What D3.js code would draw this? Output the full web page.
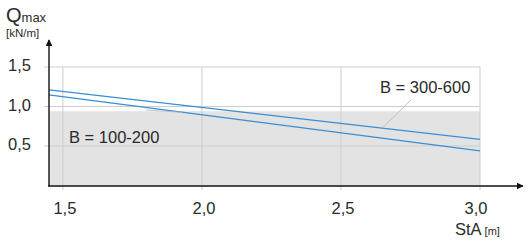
<!DOCTYPE html>
<html lang="de">
<head>
<meta charset="UTF-8">
<title>Qmax StA</title>
<script src="https://cdn.jsdelivr.net/npm/d3@7"></script>
<style>
  body { margin:0; background:#fff; }
  svg text { font-family: "Liberation Sans", Arial, sans-serif; fill:#2a2a2a; }
</style>
</head>
<body>
<div id="chart"></div>
<script>
// data
var stA = [1.45, 3.0]
var qB300 = [1.21, 0.585]   // B = 300-600
var qB100 = [1.146, 0.437]  // B = 100-200
var bandTop = 0.94
var xTicks = [1.5, 2.0, 2.5, 3.0]
var yTicks = [0.5, 1.0, 1.5]

var W = 530, H = 246
var x = d3.scaleLinear().domain([1.45, 3.0]).range([49, 480])
var y = d3.scaleLinear().domain([0, 1.5]).range([185.5, 67])
var fmt = function(d){ return d3.format('.1f')(d).replace('.', ',') }

var svg = d3.select('#chart').append('svg').attr('width', W).attr('height', H)

// grey band
svg.append('rect')
  .attr('x', x(1.45)).attr('y', y(bandTop))
  .attr('width', x(3.0) - x(1.45)).attr('height', y(0) - y(bandTop))
  .attr('fill', '#e3e3e3')

// grid
svg.append('g').selectAll('line').data(yTicks).enter().append('line')
  .attr('x1', 44).attr('x2', x(3.0))
  .attr('y1', function(d){ return y(d) }).attr('y2', function(d){ return y(d) })
  .attr('stroke', '#cdcdcd').attr('stroke-width', 1)
svg.append('g').selectAll('line').data(xTicks).enter().append('line')
  .attr('x1', function(d){ return x(d) }).attr('x2', function(d){ return x(d) })
  .attr('y1', y(1.5)).attr('y2', 190)
  .attr('stroke', '#cdcdcd').attr('stroke-width', 1)

// lines
var line = d3.line()
  .x(function(d){ return x(d[0]) })
  .y(function(d){ return y(d[1]) })
;[qB300, qB100].forEach(function(s){
  svg.append('path')
    .datum(stA.map(function(v, i){ return [v, s[i]] }))
    .attr('fill', 'none').attr('stroke', '#3a8ed4').attr('stroke-width', 1.3)
    .attr('d', line)
})

// axes with arrows
svg.append('defs').append('marker')
  .attr('id', 'arr').attr('viewBox', '0 0 10 10').attr('refX', 9).attr('refY', 5)
  .attr('markerWidth', 7).attr('markerHeight', 7).attr('markerUnits', 'userSpaceOnUse')
  .attr('orient', 'auto')
  .append('path').attr('d', 'M0,0L10,5L0,10Z').attr('fill', '#111')
svg.append('line').attr('x1', 49).attr('x2', 49).attr('y1', 186).attr('y2', 40)
  .attr('stroke', '#111').attr('stroke-width', 1.4).attr('marker-end', 'url(#arr)')
svg.append('line').attr('x1', 48).attr('x2', 523).attr('y1', 186).attr('y2', 186)
  .attr('stroke', '#111').attr('stroke-width', 1.4).attr('marker-end', 'url(#arr)')

// tick labels
svg.append('g').selectAll('text').data(yTicks).enter().append('text')
  .attr('x', 31).attr('y', function(d){ return y(d) + 4 })
  .attr('text-anchor', 'end').attr('font-size', 16.5)
  .text(fmt)
svg.append('g').selectAll('text').data(xTicks).enter().append('text')
  .attr('x', function(d){ return x(d) + (d == 3.0 ? -4 : 2) }).attr('y', 214)
  .attr('text-anchor', 'middle').attr('font-size', 16.5)
  .text(fmt)

// axis titles
var qt = svg.append('text').attr('x', 6).attr('y', 22).attr('font-size', 20)
qt.append('tspan').text('Q')
qt.append('tspan').attr('font-size', 13).attr('dx', 0).text('max')
svg.append('text').attr('x', 6).attr('y', 37).attr('font-size', 11.5).text('[kN/m]')
var xt = svg.append('text').attr('x', 455).attr('y', 235).attr('font-size', 16.5)
xt.append('tspan').text('StA')
xt.append('tspan').attr('font-size', 11).attr('dx', 3).text('[m]')

// labels with leader lines
function onLine(s, v){ return s[0] + (s[1] - s[0]) * (v - stA[0]) / (stA[1] - stA[0]) }
var labels = [
  {s: qB300, text: 'B = 300-600', tx: 380, ty: 93, lx: 411, ly: 100, at: 2.648},
  {s: qB100, text: 'B = 100-200', tx: 69, ty: 143, lx: 146, ly: 110, at: 1.93}
]
labels.forEach(function(l){
  svg.append('line').attr('x1', l.lx).attr('y1', l.ly)
    .attr('x2', x(l.at)).attr('y2', y(onLine(l.s, l.at)))
    .attr('stroke', '#b5b5b5').attr('stroke-width', 0.8)
  svg.append('text').attr('x', l.tx).attr('y', l.ty).attr('font-size', 16.5).text(l.text)
})
</script>
</body>
</html>
